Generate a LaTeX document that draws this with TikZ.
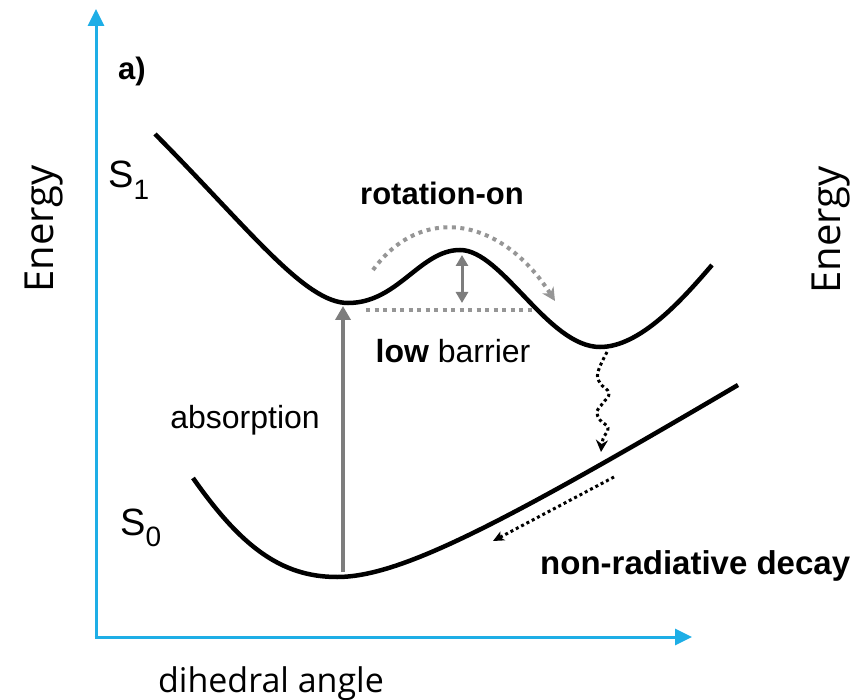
\documentclass[tikz,border=0pt]{standalone}
\usepackage{fontspec}
\setmainfont{Liberation Sans}
\newfontfamily\axfont{Open Sans}
\usetikzlibrary{arrows.meta}
\definecolor{axcyan}{RGB}{30,174,230}
\definecolor{arrgray}{RGB}{125,125,125}
\definecolor{dotgray}{RGB}{150,150,150}
\tikzset{
  axis/.style={draw=axcyan, line width=3pt, -{Triangle[length=17pt,width=16pt]}},
  curve/.style={draw=black, line width=4.5pt},
  grayarrow/.style={draw=arrgray, line width=4pt},
  graydots/.style={draw=dotgray, line width=4pt, dash pattern=on 4pt off 4.5pt},
  blackdots/.style={draw=black, line width=3pt, dash pattern=on 3pt off 3pt},
  lab/.style={inner sep=0pt, font=\fontsize{32}{36}\selectfont},
  axlab/.style={inner sep=0pt, font=\axfont\fontsize{34}{40}\selectfont},
}
\begin{document}
\begin{tikzpicture}[x=1pt,y=-1pt]
\useasboundingbox (0,0) rectangle (856,700);
% axes
\coordinate (origin) at (96,637);
\coordinate (ytip) at (96,9);
\coordinate (xtip) at (692,637);
\draw[axis] (96,638.5) -- (ytip);
\draw[axis] (94.5,637) -- (xtip);
% axis labels
\node[axlab, rotate=90, anchor=base, font=\axfont\fontsize{40}{44}\selectfont] (energyL) at (53,229) {Energy};
\node[axlab, rotate=90, anchor=base, font=\axfont\fontsize{40}{44}\selectfont] (energyR) at (840,230) {Energy};
\node[axlab, anchor=base] (dihed) at (271,692) {dihedral angle};
% panel label
\node[lab, anchor=base, font=\bfseries\fontsize{31}{34}\selectfont] (pa) at (132,80) {a)};
% state labels
\node[inner sep=0pt, anchor=base west, font=\fontsize{38}{40}\selectfont] (s1) at (108,188) {S\raisebox{-12pt}{\fontsize{28}{30}\selectfont 1}};
\node[inner sep=0pt, anchor=base west, font=\fontsize{38}{40}\selectfont] (s0) at (120,535) {S\raisebox{-11pt}{\fontsize{28}{30}\selectfont 0}};
% S1 curve
\coordinate (s1min) at (348,303);
\coordinate (s1peak) at (460,250);
\coordinate (s1min2) at (600,347);
\draw[curve] (155,134) .. controls (250,230) and (305,303) .. (s1min)
  .. controls (398,303) and (420,250) .. (s1peak)
  .. controls (502,250) and (548,347) .. (s1min2)
  .. controls (640,347) and (682,300) .. (712,265);
% S0 curve
\coordinate (s0min) at (337,577);
\draw[curve] (193,478) .. controls (240,545) and (280,577) .. (s0min)
  .. controls (400,577) and (500,525) .. (738,385);
% absorption arrow
\coordinate (absbot) at (343,572);
\coordinate (abstop) at (343,306);
\draw[grayarrow, -{Triangle[length=14pt,width=15pt]}] (absbot) -- (abstop);
\node[lab, anchor=base] (abs) at (245,428) {absorption};
% barrier
\coordinate (barL) at (366,310);
\coordinate (barR) at (532,310);
\draw[graydots] (barL) -- (barR);
\coordinate (dbtop) at (462,255);
\coordinate (dbbot) at (462,303);
\draw[draw=arrgray, line width=3pt, {Triangle[length=11pt,width=12pt]}-{Triangle[length=11pt,width=12pt]}] (dbtop) -- (dbbot);
\node[lab, anchor=base] (low) at (453,362) {\textbf{low} barrier};
% rotation-on
\node[lab, anchor=base, font=\bfseries\fontsize{31}{34}\selectfont] (rot) at (442,205) {rotation-on};
\coordinate (rotS) at (373,270);
\coordinate (rotE) at (555,301);
\draw[graydots, -{Stealth[length=13pt,width=13pt,inset=4pt]}] (rotS) .. controls (420,205) and (500,215) .. (rotE);
% wavy decay
\draw[blackdots, -{Stealth[length=12pt,width=12pt,inset=4pt]}] plot[smooth, tension=0.7] coordinates {(607,352) (598,372) (600,383) (609,393) (603,403) (597,411) (600,420) (608,428) (603,439) (601,452)};
% non-radiative decay
\coordinate (nrS) at (614,477);
\coordinate (nrE) at (493,541);
\draw[blackdots, -{Stealth[length=11pt,width=10pt,inset=3pt]}] (nrS) -- (nrE);
\node[lab, anchor=base west, font=\bfseries\fontsize{33}{35}\selectfont] (nr) at (540,574) {non-radiative decay};
\end{tikzpicture}
\end{document}
